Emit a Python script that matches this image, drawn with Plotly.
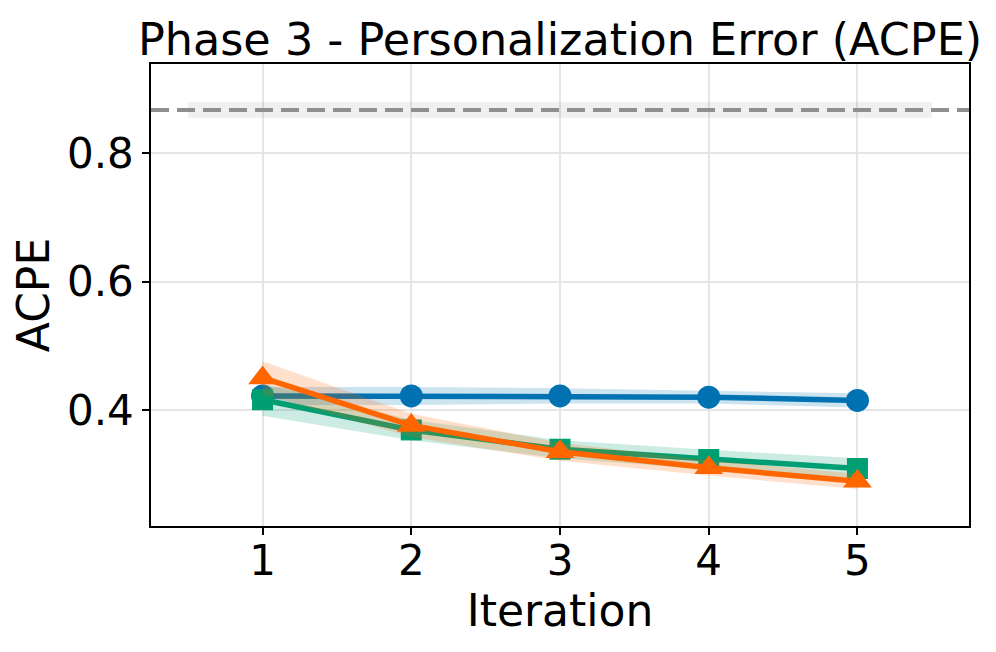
import plotly.graph_objects as go

iterations = [1, 2, 3, 4, 5]

blue_mean = [0.422, 0.422, 0.422, 0.420, 0.415]
blue_std = [0.014, 0.014, 0.012, 0.010, 0.011]

green_mean = [0.416, 0.369, 0.339, 0.323, 0.309]
green_std = [0.025, 0.016, 0.014, 0.015, 0.016]

orange_mean = [0.450, 0.376, 0.335, 0.310, 0.289]
orange_std = [0.026, 0.018, 0.014, 0.012, 0.012]

baseline_value = 0.867
baseline_std = 0.0125
baseline_x = [0.5, 5.5]

FONT = "DejaVu Sans"

series = [
    (blue_mean, blue_std, "#0072B2", "rgba(0,114,178,0.2)", "circle", 23),
    (green_mean, green_std, "#009E73", "rgba(0,158,115,0.2)", "square", 21),
    (orange_mean, orange_std, "#FF6600", "rgba(255,102,0,0.2)", "triangle-up", 25),
]

fig = go.Figure()

# baseline band
fig.add_trace(go.Scatter(
    x=baseline_x + baseline_x[::-1],
    y=[baseline_value + baseline_std] * 2 + [baseline_value - baseline_std] * 2,
    fill="toself", fillcolor="rgba(128,128,128,0.12)", line=dict(width=0),
    mode="lines", hoverinfo="skip", showlegend=False,
))

for mean, std, color, fill, symbol, msize in series:
    upper = [m + s for m, s in zip(mean, std)]
    lower = [m - s for m, s in zip(mean, std)]
    fig.add_trace(go.Scatter(
        x=iterations + iterations[::-1],
        y=upper + lower[::-1],
        fill="toself", fillcolor=fill, line=dict(width=0),
        mode="lines", hoverinfo="skip", showlegend=False,
    ))
    fig.add_trace(go.Scatter(
        x=iterations, y=mean, mode="lines+markers",
        line=dict(color=color, width=5.5),
        marker=dict(symbol=symbol, size=msize, color=color),
        showlegend=False,
    ))

fig.add_shape(type="line", xref="paper", x0=0, x1=1, yref="y",
              y0=baseline_value, y1=baseline_value,
              line=dict(color="#8f8f8f", width=4, dash="18px,8px"))

fig.update_layout(
    width=996, height=652,
    paper_bgcolor="white", plot_bgcolor="white",
    margin=dict(l=143, r=35, t=56, b=134),
    font=dict(family=FONT, color="black"),
    title=dict(text="Phase 3 - Personalization Error (ACPE)",
               font=dict(family=FONT, size=44.5, color="black"),
               x=0.5, xref="paper", xanchor="center",
               y=1, yref="paper", yanchor="bottom", pad=dict(b=9)),
)

fig.update_xaxes(
    range=[0.25, 5.75], tickmode="array", tickvals=iterations,
    ticktext=[str(i) for i in iterations],
    tickfont=dict(size=42, family=FONT, color="black"),
    ticks="outside", ticklen=7, tickwidth=1.5, tickcolor="black",
    ticklabelstandoff=-10,
    showline=True, linecolor="black", linewidth=1.5, mirror=True,
    showgrid=True, gridcolor="#e5e5e5", gridwidth=1.5, zeroline=False,
    title=dict(text="Iteration", font=dict(size=44, family=FONT, color="black"), standoff=10),
)
fig.update_yaxes(
    range=[0.2195, 0.9385], tickmode="array", tickvals=[0.4, 0.6, 0.8],
    ticktext=["0.4", "0.6", "0.8"],
    tickfont=dict(size=42, family=FONT, color="black"),
    ticks="outside", ticklen=7, tickwidth=1.5, tickcolor="black",
    showline=True, linecolor="black", linewidth=1.5, mirror=True,
    showgrid=True, gridcolor="#e5e5e5", gridwidth=1.5, zeroline=False,
    title=dict(text="ACPE", font=dict(size=44, family=FONT, color="black"), standoff=14),
)

fig.write_html("out.html")
